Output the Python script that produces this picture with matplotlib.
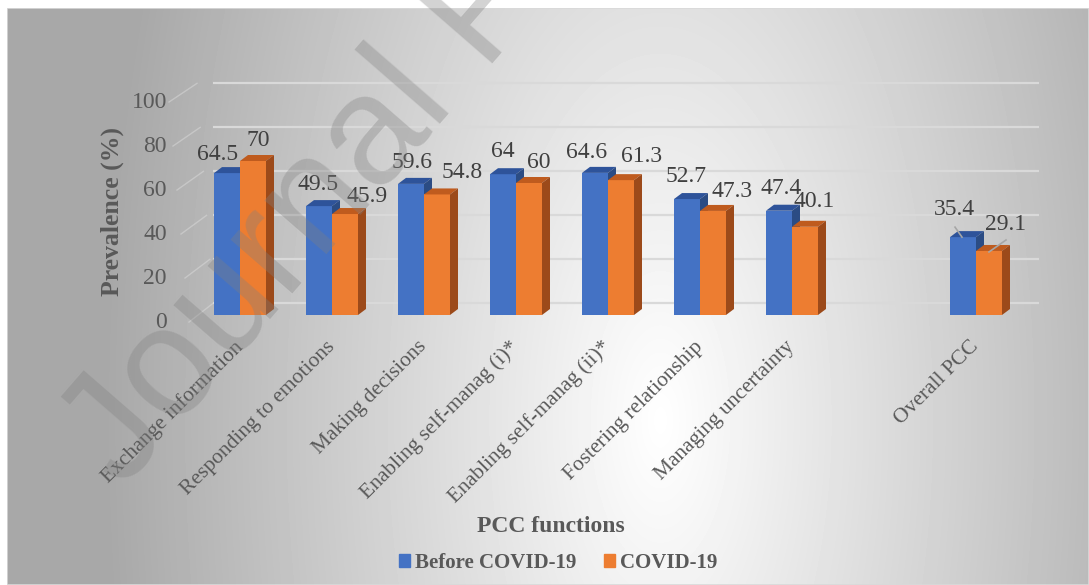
import numpy as np
import matplotlib.pyplot as plt
from matplotlib.patches import Polygon, Rectangle, Patch

plt.rcParams['font.family'] = ['Liberation Serif', 'DejaVu Serif']

categories = ["Exchange information", "Responding to emotions", "Making decisions",
              "Enabling self-manag (i)*", "Enabling self-manag (ii)*",
              "Fostering relationship", "Managing uncertainty", "", "Overall PCC"]
before_covid = [64.5, 49.5, 59.6, 64.0, 64.6, 52.7, 47.4, np.nan, 35.4]
during_covid = [70.0, 45.9, 54.8, 60.0, 61.3, 47.3, 40.1, np.nan, 29.1]
series_names = ["Before COVID-19", "COVID-19"]
y_ticks = [0, 20, 40, 60, 80, 100]

# label nudges in pixels (excel shifted some labels so they don't overlap)
label_dx = [[-9, -1, 1, 0, -8, -1, 2, 0, -9],
            [5, 22, 25, 10, 21, 19, 9, 0, 17]]
label_dy = [[13, 16, 16, 17, 15, 17, 17, 0, 22],
            [15, 12, 16, 15, 18, 14, 20, 0, 21]]

W, H = 1089, 585
fig = plt.figure(figsize=(W / 100, H / 100), dpi=100)

# gradient background of the chart area
bg = fig.add_axes([7 / W, 0, 1 - 7 / W, 1 - 8 / H])
gx, gy = np.meshgrid(np.arange(7, W), np.arange(8, H))
t = np.sqrt(((gx - 660) / 560.0) ** 2 + ((gy - 420) / 1200.0) ** 2)
shade = np.clip(255 - 88 * t, 168, 255) / 255.0
bg.imshow(shade, cmap='gray', vmin=0, vmax=1, aspect='auto',
          extent=[0, 1, 0, 1], interpolation='bilinear')
bg.add_patch(Rectangle((0, 0), 1, 1, fill=False, ec='#d9d9d9', lw=1.2,
                       transform=bg.transAxes))
bg.axis('off')

# main axes: x -0.5 -> 194px, 8.5 -> 1022px ; y 0 -> 315px, 100 -> 95px
ax = fig.add_axes([194 / W, (H - 315) / H, 828 / W, 220 / H])
ax.set_xlim(-0.5, 8.5)
ax.set_ylim(0, 100)
ax.patch.set_alpha(0)
for s in ax.spines.values():
    s.set_visible(False)

px_x = 9 / 828.0
px_y = 100 / 220.0
depth_x, depth_y = 8 * px_x, 6 * px_y
bar_w = 26 * px_x

# back wall gridlines + faint left wall
for v in y_ticks:
    ax.plot([-0.5 + 19 * px_x, 8.5 + 17 * px_x], [v + 5.3, v + 5.3],
            color='#d9d9d9', lw=1.6, zorder=1, clip_on=False,
            solid_capstyle='butt')
    ax.plot([-0.5 - (5 + 0.2 * v) * px_x, -0.5 + (19 - 0.16 * v) * px_x],
            [v - 3.2, v + 5.3], color='#e0e0e0', lw=1.0, zorder=0.5,
            clip_on=False, alpha=0.45)
    ax.text(-0.5 - 27 * px_x, v - 7.5 * px_y, str(v), ha='right', va='center',
            fontsize=17, color='#595959', zorder=1)

colors = [('#4472C4', '#2E539A', '#2B4C84'),
          ('#ED7D31', '#BF5B1E', '#9C4A1A')]
series = [before_covid, during_covid]

for i in range(len(categories)):
    for k, vals in enumerate(series):
        h = vals[i]
        if np.isnan(h):
            continue
        x0 = i - bar_w + k * bar_w
        front, top, side = colors[k]
        ax.add_patch(Rectangle((x0, 0), bar_w, h, fc=front, ec='none',
                               zorder=2 + k))
        ax.add_patch(Polygon([(x0, h), (x0 + bar_w, h),
                              (x0 + bar_w + depth_x, h + depth_y),
                              (x0 + depth_x, h + depth_y)],
                             fc=top, ec='none', zorder=2 + k))
        ax.add_patch(Polygon([(x0 + bar_w, 0), (x0 + bar_w + depth_x, depth_y),
                              (x0 + bar_w + depth_x, h + depth_y),
                              (x0 + bar_w, h)],
                             fc=side, ec='none', zorder=2 + k))
        cx = x0 + bar_w / 2
        lx = cx + label_dx[k][i] * px_x
        ly = h + label_dy[k][i] * px_y
        ax.text(lx, ly, f"{h:g}", ha='center', va='baseline', fontsize=17,
                color='#404040', zorder=6)
        if label_dy[k][i] > 20:
            # leader line from label to bar top
            if k == 0:
                ax.plot([cx - 8 * px_x, cx - 1 * px_x], [h + 10 * px_y, h],
                        color='#a6a6a6', lw=1.2, zorder=6)
            else:
                ax.plot([cx + 17 * px_x, cx], [h + 11 * px_y, h - 1 * px_y],
                        color='#a6a6a6', lw=1.2, zorder=6)

ax.set_yticks([])
ax.set_xticks(range(len(categories)))
ax.set_xticklabels(categories, fontsize=15.5, color='#595959')
ax.tick_params(axis='x', length=0, pad=21)
for lab in ax.get_xticklabels():
    lab.set_rotation(45)
    lab.set_rotation_mode('anchor')
    lab.set_horizontalalignment('right')
    lab.set_verticalalignment('center')

fig.text(112 / W, 1 - 212 / H, "Prevalence (%)", rotation=90, ha='center',
         va='center', fontsize=18.5, fontweight='bold', color='#595959')
fig.text(551 / W, 1 - 527 / H, "PCC functions", ha='center', va='center',
         fontsize=17, fontweight='bold', color='#595959')

handles = [Patch(color=colors[0][0]), Patch(color=colors[1][0])]
leg = fig.legend(handles, series_names, loc='center',
                 bbox_to_anchor=(558 / W, 1 - 563 / H), ncol=2, frameon=False,
                 prop={'weight': 'bold', 'size': 15}, labelcolor='#595959',
                 handlelength=0.53, handleheight=0.53, handletextpad=0.25,
                 columnspacing=1.3)

# watermark
fig.text(122 / W, 1 - 490 / H, "Journal Pre-proof", rotation=49,
         rotation_mode='anchor', ha='left', va='baseline', fontsize=112,
         family='Liberation Sans', color='#808080', alpha=0.35, zorder=10)

fig.savefig('out.png', dpi=100)
